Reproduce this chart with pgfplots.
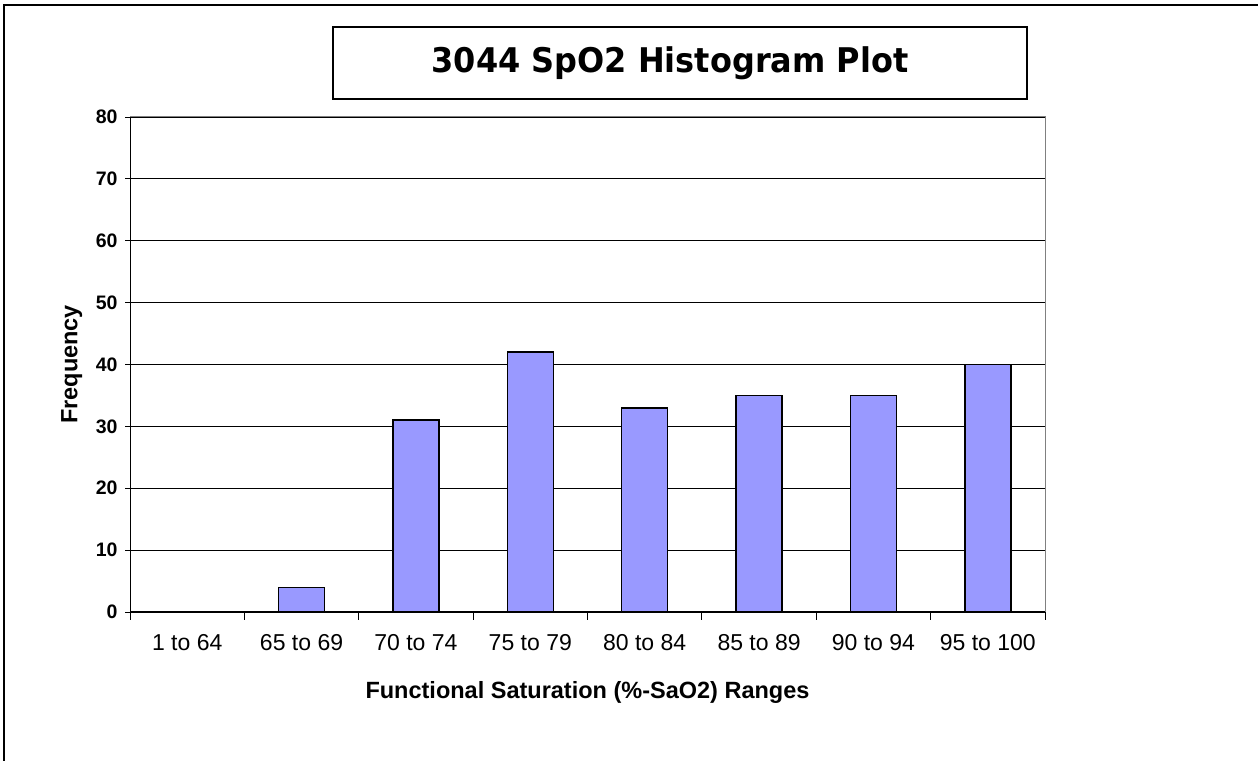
\documentclass[border=0pt]{standalone}
\usepackage{fontspec}
\setmainfont{Liberation Sans}
\newfontfamily\titlefont[FakeStretch=0.94]{DejaVu Sans}
\usepackage{pgfplots}
\pgfplotsset{compat=1.18}
\definecolor{barblue}{HTML}{9999FF}
\begin{document}
\begin{tikzpicture}
\path[use as bounding box] (0bp,0bp) rectangle (1258bp,761bp);
\draw[line width=2bp] (4bp,0bp) -- (4bp,756bp) -- (1258bp,756bp);
\draw[line width=1.5bp] (333bp,734bp) rectangle (1027bp,662bp);
\node[inner sep=0pt, anchor=center, font=\titlefont\bfseries\fontsize{34bp}{40bp}\selectfont] at (670bp,698bp) {3044 SpO2 Histogram Plot};
\begin{axis}[
  at={(130bp,149bp)}, anchor=south west,
  width=915bp, height=495bp, scale only axis,
  xmin=-0.5, xmax=7.5, ymin=0, ymax=80,
  ytick={0,10,...,80},
  xtick={0,...,7},
  xticklabels={1 to 64,65 to 69,70 to 74,75 to 79,80 to 84,85 to 89,90 to 94,95 to 100},
  minor xtick={-0.5,0.5,...,7.5},
  major x tick style={draw=none},
  minor x tick style={black, line width=0.8bp},
  minor tick length=8bp,
  major tick length=5bp,
  y tick style={black, line width=0.8bp},
  tick align=outside,
  axis x line*=bottom, axis y line*=left,
  axis line style={black, line width=1bp},
  ymajorgrids, grid style={black, line width=0.8bp},
  /pgf/number format/assume math mode=true,
  yticklabel style={font=\bfseries\fontsize{19.5bp}{23bp}\selectfont, xshift=-4bp},
  xticklabel style={font=\fontsize{23bp}{27bp}\selectfont, yshift=-14bp},
  xlabel={Functional Saturation (\%-SaO2) Ranges},
  ylabel={Frequency},
  x label style={font=\bfseries\fontsize{23.5bp}{27bp}\selectfont, at={(axis description cs:0.5,-0.1616)}, anchor=center},
  y label style={font=\bfseries\fontsize{23.5bp}{27bp}\selectfont, at={(axis description cs:-0.0636,0.5)}, anchor=center},
  ybar, bar width=46bp,
  clip=false,
]
\addplot[fill=barblue, draw=black, line width=1.4bp] coordinates {(0,0) (1,4) (2,31) (3,42) (4,33) (5,35) (6,35) (7,40)};
\draw[gray, line width=1bp] (rel axis cs:0,1) -- (rel axis cs:1,1) -- (rel axis cs:1,0);
\end{axis}
\end{tikzpicture}
\end{document}
